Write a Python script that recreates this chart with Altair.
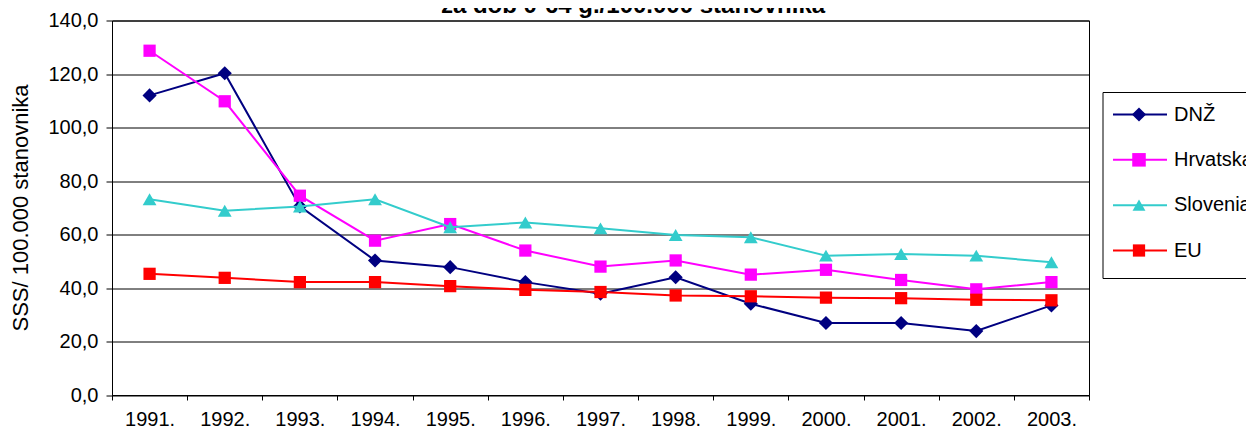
import altair as alt
import pandas as pd

years = ["1991.", "1992.", "1993.", "1994.", "1995.", "1996.", "1997.",
         "1998.", "1999.", "2000.", "2001.", "2002.", "2003."]
series = ["DNŽ", "Hrvatska", "Slovenia", "EU"]
dnz = [112.0, 120.3, 70.5, 50.3, 47.8, 42.2, 37.9, 44.0, 34.1, 26.9, 26.9, 23.9, 33.5]
hrv = [128.7, 109.8, 74.5, 57.7, 63.9, 54.0, 48.0, 50.3, 45.0, 46.8, 43.0, 39.5, 42.2]
slo = [73.2, 68.9, 70.5, 73.2, 62.7, 64.5, 62.3, 59.8, 59.0, 52.1, 52.7, 52.1, 49.6]
eu = [45.3, 43.8, 42.2, 42.2, 40.7, 39.3, 38.5, 37.2, 36.9, 36.4, 36.2, 35.6, 35.4]
colors = ["#000080", "#FF00FF", "#33CCCC", "#FF0000"]
shapes = ["diamond", "square", "triangle-up", "square"]
sizes = [200, 150, 190, 150]
title_text = "za dob 0-64 g./100.000 stanovnika"
y_title = "SSS/ 100.000 stanovnika"
y_ticks = [0, 20, 40, 60, 80, 100, 120, 140]

FONT = "Liberation Sans"

rows = []
for name, vals in zip(series, [dnz, hrv, slo, eu]):
    for yr, v in zip(years, vals):
        rows.append({"year": yr, "series": name, "value": v})
df = pd.DataFrame(rows)

x_axis = alt.Axis(title=None, tickBand="extent", tickSize=5, tickColor="black",
                  domainColor="black", labelFont=FONT, labelFontSize=20,
                  labelColor="black", labelPadding=9, labelAngle=0, grid=False)
y_axis = alt.Axis(values=y_ticks,
                  labelExpr="replace(format(datum.value, '.1f'), '.', ',')",
                  title=y_title, titleFont=FONT, titleFontSize=22,
                  titleFontWeight="normal", titleColor="black",
                  titleX=-92, titleY=187, titleAngle=270,
                  titleAlign="center", titleBaseline="middle",
                  tickSize=6, tickColor="black", domainColor="black",
                  labelFont=FONT, labelFontSize=20, labelColor="black",
                  labelPadding=8, grid=True, gridColor="black",
                  gridOpacity=1, gridWidth=1)

x_enc = alt.X("year:O", sort=years, bandPosition=0.5,
              scale=alt.Scale(type="band", domain=years, paddingInner=0, paddingOuter=0),
              axis=x_axis)
y_enc = alt.Y("value:Q", scale=alt.Scale(domain=[0, 140], nice=False, zero=True), axis=y_axis)

layers = []
for name, col, shp, sz in zip(series, colors, shapes, sizes):
    base = alt.Chart(df).transform_filter(alt.datum.series == name)
    line = base.mark_line(color=col, strokeWidth=2).encode(x=x_enc, y=y_enc)
    pts = base.mark_point(shape=shp, filled=True, size=sz, color=col, opacity=1).encode(
        x=x_enc, y=y_enc)
    layers += [line, pts]

main = alt.layer(*layers)

leg_df = pd.DataFrame({"series": series})
leg_y = alt.Y("series:N", sort=series,
              scale=alt.Scale(type="point", domain=series, range=[94, 230], padding=0),
              axis=None)
leg_color = alt.Color("series:N", scale=alt.Scale(domain=series, range=colors), legend=None)
leg_size = alt.Size("series:N", scale=alt.Scale(domain=series, range=sizes), legend=None)

box = alt.Chart(pd.DataFrame({"a": [0]})).mark_rect(
    fill="white", stroke="black", strokeWidth=1).encode(
    x=alt.value(991), x2=alt.value(1160), y=alt.value(72), y2=alt.value(258))
leg_lines = alt.Chart(leg_df).mark_rule(strokeWidth=2).encode(
    x=alt.value(1001), x2=alt.value(1055), y=leg_y, color=leg_color)
leg_pts = alt.Chart(leg_df).mark_point(filled=True, opacity=1).encode(
    x=alt.value(1027), y=leg_y, color=leg_color, size=leg_size,
    shape=alt.Shape("series:N", scale=alt.Scale(domain=series, range=shapes), legend=None))
leg_text = alt.Chart(leg_df).mark_text(
    align="left", baseline="middle", font=FONT, fontSize=20, color="black").encode(
    x=alt.value(1062), y=leg_y, text="series:N")
legend = alt.layer(box, leg_lines, leg_pts, leg_text)

title = alt.Chart(pd.DataFrame({"t": [title_text]})).mark_text(
    align="center", baseline="alphabetic", font=FONT, fontSize=24, fontWeight="bold",
    color="black").encode(x=alt.value(521), y=alt.value(-7.5), text="t:N")

chart = alt.layer(main, legend, title).resolve_scale(y="independent").properties(
    width=977, height=374.5,
    autosize=alt.AutoSizeParams(type="none"),
    padding={"left": 104, "top": 12.5, "right": 157, "bottom": 35},
    background="white",
).configure_view(stroke="black", strokeWidth=1)

chart.save("out.html", embed_options={"renderer": "svg", "actions": False})
